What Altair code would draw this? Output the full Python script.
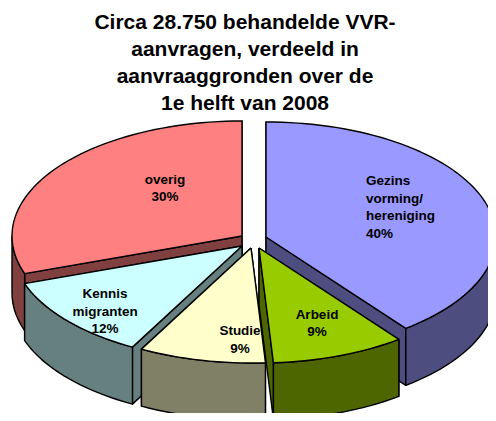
import math
import altair as alt
import pandas as pd

# Values
names = ["Gezins vorming/hereniging", "Arbeid", "Studie", "Kennis migranten", "overig"]
shares = [39.6, 9.4, 8.9, 11.8, 30.3]
face_colors = ["#9999FF", "#99CC00", "#FFFFCC", "#CCFFFF", "#FF8080"]
side_colors = ["#4D4D80", "#4D6600", "#808066", "#668080", "#804040"]
# exploded centre of each slice, in picture units
center_x = [266, 259, 251, 242, 242]
center_y = [237, 248, 248, 246, 236]
paint_order = [0, 4, 3, 1, 2]
RX, RY, DEPTH = 230, 115, 57

label_text = ["Gezins", "vorming/", "hereniging", "40%", "Arbeid", "9%", "Studie", "9%",
              "Kennis", "migranten", "12%", "overig", "30%"]
label_x = [366, 366, 366, 366, 317, 317, 240, 240, 105, 105, 105, 165, 165]
label_y = [185, 203, 220, 238, 319, 336, 335, 353, 298, 316, 333, 184, 201]
label_align = ["left"] * 4 + ["center"] * 9

title_lines = ["Circa 28.750 behandelde VVR-", "aanvragen, verdeeld in",
               "aanvraaggronden over de", "1e helft van 2008"]

x_scale = alt.Scale(domain=[8, 488], range=[0, 480], nice=False, zero=False)
y_scale = alt.Scale(domain=[118, 413], range=[0, 295], nice=False, zero=False)


def rim(i, a0, a1):
    n = max(2, int(abs(a1 - a0) / 2))
    return [(center_x[i] + RX * math.sin(math.radians(a0 + (a1 - a0) * k / n)),
             center_y[i] - RY * math.cos(math.radians(a0 + (a1 - a0) * k / n)))
            for k in range(n + 1)]


def poly(points, fill):
    pts = points + [points[0]]
    df = pd.DataFrame({"x": [p[0] for p in pts], "y": [p[1] for p in pts], "i": range(len(pts))})
    return alt.Chart(df).mark_line(
        fill=fill, stroke="black", strokeWidth=1.4, strokeJoin="round", clip=True, interpolate="linear"
    ).encode(
        x=alt.X("x:Q", scale=x_scale, axis=None),
        y=alt.Y("y:Q", scale=y_scale, axis=None),
        order="i:Q",
    )


starts = [sum(shares[:i]) * 3.6 for i in range(len(shares))]
layers = []
for i in paint_order:
    a0, a1 = starts[i], starts[i] + shares[i] * 3.6
    c = (center_x[i], center_y[i])
    cd = (c[0], c[1] + DEPTH)
    # radial walls, the one further back first
    edge_points = sorted((rim(i, a, a)[0] for a in (a0, a1)), key=lambda q: q[1])
    for p in edge_points:
        layers.append(poly([c, p, (p[0], p[1] + DEPTH), cd], side_colors[i]))
    # outer wall: the part of the rim facing the viewer (lower half of the ellipse)
    w0, w1 = max(a0, 90), min(a1, 270)
    if w1 > w0:
        top = rim(i, w0, w1)
        layers.append(poly(top + [(x, y + DEPTH) for x, y in reversed(top)], side_colors[i]))
    layers.append(poly([c] + rim(i, a0, a1), face_colors[i]))

labels = alt.Chart(pd.DataFrame({"t": label_text, "x": label_x, "y": label_y, "a": label_align}))
for al in ("left", "center"):
    layers.append(
        labels.transform_filter(alt.datum.a == al).mark_text(
            font="Liberation Sans", fontWeight="bold", fontSize=13.5, align=al, baseline="alphabetic", color="#000000"
        ).encode(
            x=alt.X("x:Q", scale=x_scale, axis=None),
            y=alt.Y("y:Q", scale=y_scale, axis=None),
            text="t:N",
        )
    )

chart = alt.layer(*layers).properties(
    width=480,
    height=295,
    padding={"left": 0, "right": 0, "top": 110, "bottom": 0},
    autosize=alt.AutoSizeParams(type="none"),
    title=alt.TitleParams(
        text=title_lines, font="Liberation Sans", fontWeight="bold", fontSize=21,
        lineHeight=27, anchor="middle", dx=-3, offset=4, color="#000000",
    ),
).configure_view(stroke=None).resolve_scale(x="shared", y="shared")

chart.save("out.html", embed_options={"renderer": "svg", "actions": False})
